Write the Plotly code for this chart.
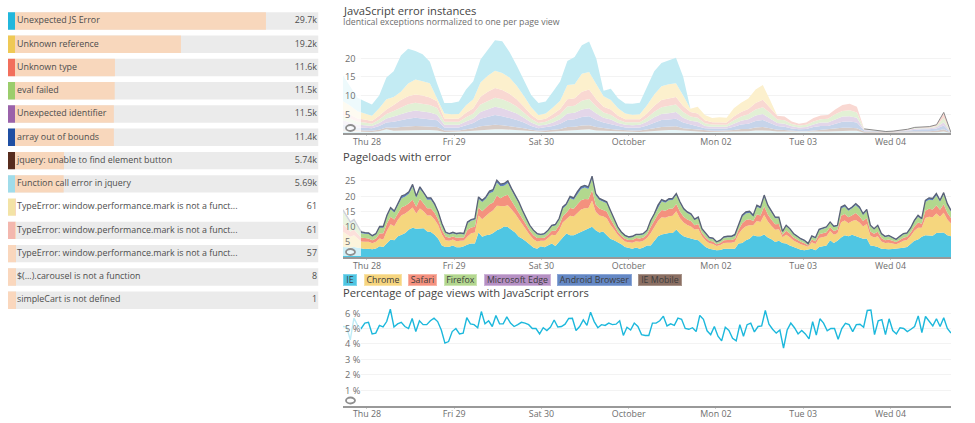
import pandas as pd
import plotly.graph_objects as go

# ---------- left panel ----------
error_names = ["Unexpected JS Error", "Unknown reference", "Unknown type", "eval failed", "Unexpected identifier",
               "array out of bounds", "jquery: unable to find element button", "Function call error in jquery",
               "TypeError: window.performance.mark is not a funct...", "TypeError: window.performance.mark is not a funct...",
               "TypeError: window.performance.mark is not a funct...", "$(...).carousel is not a function", "simpleCart is not defined"]
error_bar_k = [29.7, 19.64, 11.83, 11.8, 11.7, 11.7, 5.8, 5.76, 0.061, 0.061, 0.057, 0.008, 0.001]
error_labels = ["29.7k", "19.2k", "11.6k", "11.5k", "11.5k", "11.4k", "5.74k", "5.69k", "61", "61", "57", "8", "1"]
swatches = ["#22b7dc", "#efc955", "#f26f5c", "#9bcd6c", "#9a62aa", "#1f4fa3", "#572c1e", "#a0dcea",
            "#f3e3a6", "#f3b7ae", "#fad7bd", "#fad7bd", "#fad7bd"]
row_bg = ["#ebebeb"] * 8 + ["#ffffff"] + ["#ebebeb"] * 4

# ---------- chart 1: error instances, two-hour samples, bottom layer first ----------
inst_light = [.5,.4,.3,.3,.3,.5,1.0,.6,.7,.8,.8,.8,.8,.7,.3,.3,.3,.5,.6,.8,.9,1.0,1.0,.9,.7,.6,.4,.3,.3,.4,.5,.7,.8,.9,1.0,.7,.6,.5,.4,.3,.3,.3,.4,.6,.7,.8,.8,.6,.5,.4,.3,.3,.3,.3,.4,.5,.5,.7,.7,.6,.4,.4,.3,.2,.2,.3,.4,.4,.5,.6,.6,.6,.1,.1,.1,.1,.1,.1,.1,.2,.2,.2,.2,.4,0]
inst_brown = [.6,.5,.4,.4,.3,.4,.5,.8,.9,1.0,1.1,1.0,1.0,.9,.4,.4,.4,.5,.7,1.0,1.1,1.2,1.1,1.0,.9,.7,.5,.3,.4,.5,.6,.9,.9,1.1,1.1,.9,.7,.6,.5,.4,.4,.4,.5,.7,.9,.9,1.0,.7,.6,.5,.3,.3,.3,.3,.4,.6,.6,.8,.9,.7,.5,.4,.3,.3,.3,.4,.5,.5,.6,.8,.8,.7,.3,.3,.2,.2,.2,.2,.3,.3,.3,.3,.4,.6,.1]
inst_blue = [1.2,1.0,.8,.7,.7,1.0,1.3,1.6,1.9,2.0,2.2,2.1,2.0,1.8,.8,.8,.8,1.1,1.4,2.0,2.3,2.6,2.4,2.2,1.9,1.5,1.0,.7,.8,1.0,1.4,1.9,2.0,2.3,2.4,1.9,1.5,1.3,1.0,.8,.7,.8,1.1,1.5,1.9,1.9,2.0,1.5,1.2,1.1,.7,.6,.6,.6,.9,1.2,1.4,1.7,1.9,1.4,1.0,.9,.6,.5,.6,.9,1.0,1.0,1.4,1.6,1.7,1.5,.3,.2,.1,.1,.1,.2,.3,.4,.5,.5,.6,1.0,0]
inst_purple = [1.1,.9,.7,.7,.6,.8,1.1,1.4,1.6,1.8,1.9,1.8,1.7,1.5,.7,.7,.7,1.0,1.2,1.8,2.0,2.2,2.1,1.9,1.7,1.3,.9,.7,.7,.9,1.2,1.7,1.7,2.0,2.1,1.7,1.3,1.2,.8,.7,.7,.7,1.0,1.4,1.6,1.7,1.8,1.3,1.0,1.0,.6,.5,.5,.5,.8,1.0,1.2,1.5,1.6,1.3,.8,.8,.6,.5,.5,.7,.9,.9,1.2,1.4,1.4,1.3,.2,.1,.1,0,.1,.1,.1,.3,.3,.3,.4,.9,0]
inst_green = [1.3,1.1,.8,.7,.6,.9,1.2,1.5,1.8,2.1,2.1,2.1,2.0,1.8,.8,.8,.8,1.1,1.3,2.0,2.3,2.4,2.4,2.2,1.9,1.4,1.0,.7,.8,1.1,1.3,1.9,1.9,2.3,2.5,1.9,1.4,1.3,.9,.7,.7,.7,1.1,1.5,1.8,1.9,2.0,1.5,1.1,1.1,.7,.6,.5,.5,.9,1.1,1.3,1.6,1.8,1.4,.9,.9,.6,.5,.6,.8,.9,1.0,1.3,1.5,1.6,1.4,.1,.1,0,0,0,.1,.1,.2,.2,.2,.3,1.2,0]
inst_red = [1.3,1.1,.9,.8,.7,1.0,1.2,1.6,1.9,2.1,2.2,2.2,2.0,1.8,.9,.8,.9,1.2,1.4,2.1,2.4,2.6,2.5,2.3,1.9,1.5,1.1,.8,.8,1.1,1.4,1.9,2.0,2.4,2.5,1.9,1.5,1.4,1.0,.8,.8,.8,1.1,1.6,1.9,2.0,2.0,1.6,1.2,1.1,.8,.6,.6,.6,1.0,1.2,1.4,1.7,2.0,1.4,1.0,1.0,.7,.5,.6,.9,1.0,1.0,1.3,1.6,1.7,1.5,.1,.1,0,0,0,0,.1,.1,.1,.2,.3,1.4,0]
inst_yellow = [2.5,2.3,1.9,1.7,1.4,2.0,2.7,2.1,2.2,3.4,4.0,3.8,3.8,.7,1.3,1.2,1.2,2.0,2.4,3.8,4.3,4.6,4.5,4.3,3.6,2.9,2.0,1.3,1.4,1.8,2.2,3.8,3.7,4.8,4.7,4.0,2.8,2.5,2.0,1.5,1.3,1.3,2.2,3.0,3.7,3.8,3.7,2.8,.9,1.8,1.4,1.1,1.4,1.3,2.2,2.5,2.8,3.6,3.9,2.0,0,0,0,0,0,0,0,0,0,0,0,0,0,0,0,0,0,0,0,0,0,0,0,0,0]
inst_teal = [6.9,5.2,3.6,3.2,3.0,3.4,5.8,6.9,9.7,9.3,7.6,7.2,5.7,4.0,2.8,3.0,3.3,4.2,4.8,6.1,6.7,8.1,8.5,6.8,5.4,4.1,3.2,3.2,3.2,4.2,5.1,6.4,7.3,7.6,8.1,6.8,1.5,3.0,2.7,2.7,2.9,3.1,4.7,6.2,6.2,6.5,6.8,5.0,0,0,0,0,0,0,0,0,0,0,0,0,0,0,0,0,0,0,0,0,0,0,0,0,0,0,0,0,0,0,0,0,0,0,0,0,0]

# ---------- chart 2: pageloads with error by browser, hourly samples ----------
ie = [3.3,3.1,3.1,3.3,3.1,2.7,2.6,2.7,2.5,2.8,3.5,3.3,4.6,5.7,5.5,6.8,7.3,7.9,9,9.6,9.3,9.3,9.4,8.4,8.2,7.3,6,3.8,3.3,3.4,3.8,3.2,3.2,3.5,4.1,4.4,4.4,8,6.6,7.1,7.3,7.9,8.8,9.3,10,9.8,9,8,6.6,6,5.1,4.2,3.1,2.7,3.5,3.2,3.8,4.4,3.6,5.1,6.4,7.7,7.1,7.1,7.7,8.2,8.8,9.3,9.9,8.8,8,8.4,7.3,6,5.5,4.9,4.2,3.3,3.1,2.7,3.1,2.7,3.1,3.8,3.8,5.3,
      6.8,7.4,7.7,7.9,7.9,9,7.7,6.8,6.4,6,5.7,5.5,4.4,3.3,2.7,2.4,2.2,2.3,2.7,2.7,2.7,2.7,4.4,4.6,5.5,6,7.1,6.8,6.8,7.4,6.4,5.8,4.9,5.3,4.6,4.4,3.8,3.3,2.7,2.4,2.2,2.4,2.7,2.2,3.3,3.5,3.8,5.5,4.6,5.3,6.4,7.1,6.8,7.3,6.8,6.4,6,6.1,3.8,3.6,3.3,2.7,2.5,2.5,2.6,2.7,2.7,3,3.3,4.2,5.3,5.7,6.6,7.1,7.1,7,7.9,7.9,8,7.1,6.8]
chrome = [5.0,4.4,3.5,3.8,3.1,2.4,2.4,2.3,2.0,2.2,2.6,2.4,4.0,5.0,4.6,5.4,6.4,6.4,6.2,6.6,5.0,6.6,5.6,5.2,5.4,5.0,4.4,3.6,2.2,1.9,1.9,2.0,2.1,1.9,2.6,3.4,3.6,5.6,5.8,6.4,7.2,7.4,8.0,7.4,6.6,7.2,6.6,6.2,5.8,4.6,3.7,3.0,2.7,2.4,1.8,2.1,2.4,2.9,3.5,3.6,4.9,4.8,6.4,6.2,6.8,7.4,7.2,6.8,8.6,6.0,5.6,5.0,5.4,4.6,3.5,2.4,1.9,1.8,1.7,2.0,2.1,2.3,2.2,2.4,4.0,4.4,
          5.0,5.6,5.2,5.5,5.6,6.0,5.0,4.5,4.1,4.0,3.3,3.7,2.4,2.1,1.8,1.9,1.4,1.6,1.9,2.0,2.0,2.3,3.1,4.5,4.6,4.4,3.3,5.0,4.7,6.4,5.2,4.4,4.0,3.8,1.9,2.9,2.7,2.1,2.0,1.8,1.6,1.0,2.1,2.1,2.9,3.0,3.0,3.0,2.7,2.5,5.0,4.9,4.3,4.5,5.3,4.9,4.0,4.7,3.2,2.8,3.5,2.4,2.1,2.2,1.9,1.5,2.0,2.3,2.3,2.7,3.3,3.9,3.0,5.7,6.1,6.0,6.4,5.3,6.5,5.2,4.2]
safari = [2.5,2.2,1.8,1.9,1.6,1.2,1.2,1.1,1.0,1.1,1.6,2.1,2.4,2.5,2.2,2.3,2.6,2.5,2.4,2.6,2.2,3.2,2.6,2.4,2.4,2.2,1.9,1.5,1.2,1.0,1.0,1.1,1.1,1.0,2.2,1.9,1.9,2.6,2.6,2.5,2.8,2.6,3.4,2.6,3.4,3.4,2.8,2.5,2.4,2.0,1.6,1.4,1.3,1.1,.9,1.0,1.1,1.3,1.5,1.6,2.1,2.0,2.6,2.5,2.8,3.0,3.0,2.8,3.4,2.4,2.3,2.1,2.2,1.9,1.5,1.1,.9,.9,.8,.9,1.0,1.1,1.1,1.2,2.0,2.0,
          2.2,2.4,2.3,2.4,2.4,2.4,2.2,1.9,1.8,1.8,1.4,1.6,1.1,1.0,.8,.8,.6,.7,.9,.9,.9,1.0,1.4,2.0,2.0,2.0,1.4,2.2,2.1,2.8,2.3,2.0,1.8,1.7,.8,1.3,1.2,1.0,.9,.8,.7,.4,.9,.9,1.3,1.3,1.3,1.3,1.2,1.1,2.1,2.1,1.9,1.9,2.3,2.1,1.8,2.0,1.4,1.2,1.5,1.1,.9,1.0,.8,.7,.9,1.0,1.0,1.1,1.4,1.7,1.3,2.4,2.6,2.6,2.7,2.3,2.8,2.2,1.8]
firefox = [4.0,3.4,2.6,2.8,2.2,1.5,1.4,1.4,1.2,1.3,1.9,1.8,2.2,2.5,2.3,2.6,3.0,3.0,3.1,4.2,2.9,3.2,3.2,2.8,2.8,2.5,2.1,1.7,1.2,1.1,1.1,1.1,1.2,1.0,2.2,2.2,2.3,2.9,3.0,3.1,3.6,3.5,4.2,3.9,3.4,3.9,3.4,3.0,2.8,2.3,1.8,1.5,1.4,1.2,.9,1.1,1.2,1.5,1.7,1.9,2.5,2.5,3.2,3.0,3.4,3.7,3.8,3.4,3.8,3.0,2.8,2.6,2.7,2.4,1.8,1.2,.9,.8,.7,.9,.9,1.0,1.0,1.1,1.8,2.1,
           2.5,2.9,2.6,2.8,2.8,2.9,2.7,2.3,2.1,2.0,1.7,1.9,1.1,1.0,.8,.8,.6,.7,.8,.9,.9,1.0,1.4,2.1,2.2,2.1,1.5,2.5,2.3,3.1,2.6,2.2,2.0,1.9,.8,1.5,1.3,1.0,.9,.7,.7,.4,.9,.9,1.3,1.5,1.5,1.4,1.3,1.2,2.4,2.4,2.2,2.3,2.6,2.5,2.0,2.3,1.7,1.4,1.8,1.2,1.0,1.1,.8,.7,.9,1.1,1.0,1.3,1.6,1.9,1.4,2.8,3.0,3.0,3.2,2.6,3.2,2.5,2.1]
android = [.7,.6,.5,.5,.4,.4,.4,.4,.3,.3,.4,.4,.5,.5,.5,.6,.7,.7,.7,.8,.6,.7,.6,.6,.6,.5,.4,.4,.3,.3,.3,.3,.3,.3,.4,.4,.4,.6,.6,.6,.7,.7,.8,.7,.7,.7,.7,.6,.5,.4,.4,.3,.3,.3,.3,.3,.3,.3,.4,.4,.5,.5,.6,.6,.7,.7,.7,.7,.8,.6,.5,.5,.5,.4,.3,.3,.3,.3,.3,.3,.3,.3,.3,.3,.4,.4,
           .5,.5,.5,.5,.5,.5,.5,.4,.4,.4,.3,.4,.3,.3,.3,.3,.2,.2,.3,.3,.3,.4,.4,.5,.5,.5,.4,.5,.5,.6,.5,.4,.4,.4,.3,.3,.3,.3,.3,.3,.3,.2,.3,.3,.3,.3,.3,.3,.3,.3,.5,.5,.4,.4,.5,.5,.4,.5,.3,.3,.3,.3,.3,.3,.3,.2,.3,.3,.3,.3,.4,.5,.3,.6,.6,.6,.6,.5,.6,.5,.4]

# ---------- chart 3: percentage, hourly samples ----------
pct = [5.13,5.1,4.26,5.67,5.2,5.0,5.35,5.4,4.65,4.7,5.2,5.1,5.45,6.25,5.1,5.3,5.4,5.13,5.0,5.65,4.8,5.5,5.25,5.25,5.5,5.67,5.45,4.9,4.05,4.15,4.8,5.0,4.65,4.7,5.7,5.3,5.25,5.05,6.1,5.3,5.5,5.13,5.85,5.3,5.3,5.75,5.35,5.13,5.25,5.4,5.35,5.25,5.0,5.0,4.65,5.05,4.87,5.1,5.55,5.1,5.13,5.28,5.65,5.67,4.87,5.13,5.56,5.2,6.06,5.45,5.05,5.25,5.2,5.35,5.25,5.28,5.5,4.55,5.08,4.9,5.35,5.13,4.6,4.55,4.55,5.35,
       5.35,5.5,5.8,5.17,5.3,5.2,5.67,5.6,5.0,4.95,5.05,4.8,5.85,5.6,4.85,4.6,5.13,4.5,4.2,5.08,4.87,4.37,4.2,5.25,4.5,5.25,5.35,4.78,5.13,5.17,6.17,5.28,4.95,4.7,4.9,3.72,4.9,5.35,5.05,4.65,4.87,4.65,4.33,5.45,4.57,5.63,5.35,4.85,5.0,5.0,4.3,5.0,5.33,5.25,4.8,5.25,5.28,5.08,6.17,6.2,4.6,5.5,5.58,4.6,5.63,4.87,4.65,5.05,5.0,4.8,4.95,5.13,5.82,4.74,5.78,5.45,5.17,5.63,5.13,5.7,5.0,4.7]

day_ticks = ["2017-09-28", "2017-09-29", "2017-09-30", "2017-10-01", "2017-10-02", "2017-10-03", "2017-10-04"]
day_labels = ["Thu 28", "Fri 29", "Sat 30", "October", "Mon 02", "Tue 03", "Wed 04"]
legend_names = ["IE", "Chrome", "Safari", "Firefox", "Microsoft Edge", "Android Browser", "IE Mobile"]
legend_fill = ["#4fc6e3", "#f6d57f", "#f5917f", "#b3d78f", "#b690c4", "#6488c5", "#8b6f63"]
legend_edge = ["#7fd6ec", "#f9e2a5", "#f8b3a5", "#cce5b3", "#cdb3d8", "#8aa6d6", "#a8948a"]
inst_ticks = [5, 10, 15, 20]
load_ticks = [5, 10, 15, 20, 25]
pct_ticks = [1, 2, 3, 4, 5, 6]

for name, arr, n in [("light", inst_light, 85), ("brown", inst_brown, 85), ("blue", inst_blue, 85), ("purple", inst_purple, 85),
                     ("green", inst_green, 85), ("red", inst_red, 85), ("yellow", inst_yellow, 85), ("teal", inst_teal, 85),
                     ("chrome", chrome, 167), ("ie", ie, 167), ("safari", safari, 167), ("firefox", firefox, 167), ("android", android, 167)]:
    assert len(arr) == n, (name, len(arr))

W, H = 975, 423
def px(v): return v / W
def py(v): return 1 - v / H

start = pd.Timestamp("2017-09-27 17:24")
end = pd.Timestamp("2017-10-04 16:40")
def times(n): return pd.date_range(start, end, periods=n)

fig = go.Figure()
SANS = "Open Sans"

# left panel: x in thousands
rows = list(range(len(error_bar_k)))
k_per_px = 1 / 8.45
left0 = -7 * k_per_px
right0 = 303.5 * k_per_px
bw = 0.75
fig.add_trace(go.Bar(y=rows, x=[right0 - left0] * 13, base=left0, orientation="h", width=bw, marker=dict(color=row_bg, line_width=0),
                     xaxis="x", yaxis="y", hoverinfo="skip", showlegend=False))
fig.add_trace(go.Bar(y=rows, x=error_bar_k, base=0, orientation="h", width=bw, marker=dict(color="#f8d7bc", line_width=0),
                     xaxis="x", yaxis="y", showlegend=False))
fig.add_trace(go.Bar(y=rows, x=[-left0] * 13, base=left0, orientation="h", width=bw, marker=dict(color=swatches, line_width=0),
                     xaxis="x", yaxis="y", hoverinfo="skip", showlegend=False))
fig.add_trace(go.Scatter(y=rows, x=[2 * k_per_px] * 13, mode="text", text=error_names, textposition="middle right",
                         textfont=dict(family=SANS, size=8.9, color="#4d4d4d"), xaxis="x", yaxis="y", showlegend=False, hoverinfo="skip"))
fig.add_trace(go.Scatter(y=rows, x=[right0 - 1.5 * k_per_px] * 13, mode="text", text=error_labels, textposition="middle left",
                         textfont=dict(family=SANS, size=8.9, color="#4d4d4d"), xaxis="x", yaxis="y", showlegend=False, hoverinfo="skip"))

# chart 1
t1 = times(85)
for arr, col in [(inst_light, "#e6f6f9"), (inst_brown, "#d8ccc7"), (inst_blue, "#c6d4ea"), (inst_purple, "#e3d6e9"),
                 (inst_green, "#e2f0d5"), (inst_red, "#f9d8d2"), (inst_yellow, "#fcf0cd"), (inst_teal, "#c3ebf3")]:
    fig.add_trace(go.Scatter(x=t1, y=arr, xaxis="x2", yaxis="y2", stackgroup="a", mode="lines", line=dict(width=0, color=col),
                             fillcolor=col, showlegend=False))
inst_layers = [inst_light, inst_brown, inst_blue, inst_purple, inst_green, inst_red, inst_yellow, inst_teal]
inst_total = [sum(v) for v in zip(*inst_layers)]
fig.add_trace(go.Scatter(x=t1[72:], y=inst_total[72:], xaxis="x2", yaxis="y2", mode="lines", line=dict(width=1, color="#8a8a8a"),
                         showlegend=False, hoverinfo="skip"))

# chart 2
t2 = times(167)
for arr, col in [(ie, "#4fc6e3"), (chrome, "#f5d67e"), (safari, "#f4917e"), (firefox, "#b2d88e")]:
    fig.add_trace(go.Scatter(x=t2, y=arr, xaxis="x3", yaxis="y3", stackgroup="b", mode="lines", line=dict(width=0, color=col),
                             fillcolor=col, showlegend=False))
fig.add_trace(go.Scatter(x=t2, y=android, xaxis="x3", yaxis="y3", stackgroup="b", mode="lines", line=dict(width=1.3, color="#5a6276"),
                         fillcolor="#5b7fbf", showlegend=False))

# chart 3
t3 = times(len(pct))
fig.add_trace(go.Scatter(x=t3, y=pct, xaxis="x4", yaxis="y4", mode="lines", line=dict(width=1.4, color="#1cb8dc"), showlegend=False))

date_axis = dict(type="date", range=[start, end], tickmode="array", tickvals=day_ticks, ticktext=day_labels, showgrid=False,
                 ticks="outside", ticklen=1, tickcolor="#cccccc", ticklabelstandoff=-2, tickfont=dict(family=SANS, size=8.9, color="#6e6e6e"),
                 showline=True, linecolor="#999999", linewidth=2, zeroline=False)
val_axis = dict(showgrid=True, gridcolor="#f3f3f3", gridwidth=1, zeroline=False, showticklabels=False, ticks="", showline=False)
chart_x = [px(343), px(951)]

shapes = []
for top, bottom in [(35, 133), (170, 257), (305, 405.5)]:
    shapes.append(dict(type="rect", xref="paper", yref="paper", x0=px(343), x1=px(361), y0=py(bottom - 1), y1=py(top),
                       fillcolor="rgba(255,255,255,0.72)", line_width=0, layer="above"))
    shapes.append(dict(type="circle", xref="paper", yref="paper", x0=px(346), x1=px(355), y0=py(bottom - 8), y1=py(bottom - 2),
                       fillcolor="rgba(255,255,255,0.6)", line=dict(color="#8f8f8f", width=1.8), layer="above"))

annotations = []
def title(text, y, size, color):
    annotations.append(dict(xref="paper", yref="paper", x=px(343), y=py(y), text=text, showarrow=False, xanchor="left", yanchor="middle",
                            xshift=-2, font=dict(family=SANS, size=size, color=color)))
title("JavaScript error instances", 10, 11.2, "#444444")
title("Identical exceptions normalized to one per page view", 22, 8.75, "#6e6e6e")
title("Pageloads with error", 156.5, 11.2, "#444444")
title("Percentage of page views with JavaScript errors", 292.5, 11.2, "#444444")
legend_x0 = [343, 364, 408, 444, 484, 557, 638]
legend_x1 = [357, 402, 437, 477, 551, 632, 682]
for name, a, b, fill, edge in zip(legend_names, legend_x0, legend_x1, legend_fill, legend_edge):
    annotations.append(dict(xref="paper", yref="paper", x=px((a + b) / 2), y=py(280), text=name, showarrow=False, xanchor="center",
                            yanchor="middle", width=b - a - 2, height=10, borderpad=0, bgcolor=fill, bordercolor=edge, borderwidth=1,
                            font=dict(family=SANS, size=8.8, color="#3c3c3c")))
for axis, ticks, fmt in [("y2", inst_ticks, "{}"), ("y3", load_ticks, "{}"), ("y4", pct_ticks, "{} %")]:
    for v in ticks:
        annotations.append(dict(xref="paper", yref=axis, x=px(345), y=v, text=fmt.format(v), showarrow=False, xanchor="left", yanchor="middle",
                                xshift=-2, font=dict(family=SANS, size=9.2, color="#6e6e6e")))

fig.update_layout(
    width=W, height=H, margin=dict(l=0, r=0, t=0, b=0), paper_bgcolor="white", plot_bgcolor="white", barmode="overlay", showlegend=False,
    xaxis=dict(domain=[px(8), px(318.5)], range=[left0, right0], visible=False),
    yaxis=dict(domain=[py(311.8), py(9.4)], range=[12.5, -0.5], visible=False),
    xaxis2=dict(date_axis, domain=chart_x, anchor="y2"),
    yaxis2=dict(val_axis, domain=[py(133), py(35)], range=[0, 98 / 3.75], anchor="x2", tickvals=inst_ticks),
    xaxis3=dict(date_axis, domain=chart_x, anchor="y3"),
    yaxis3=dict(val_axis, domain=[py(257), py(170)], range=[0, 87 / 3.05], anchor="x3", tickvals=load_ticks),
    xaxis4=dict(date_axis, domain=chart_x, anchor="y4"),
    yaxis4=dict(val_axis, domain=[py(405.5), py(305)], range=[0, 100.5 / 15.4], anchor="x4", tickvals=pct_ticks),
    shapes=shapes, annotations=annotations,
)
fig.write_html("out.html", config={"displayModeBar": False}, post_script="document.body.style.margin='0';")
